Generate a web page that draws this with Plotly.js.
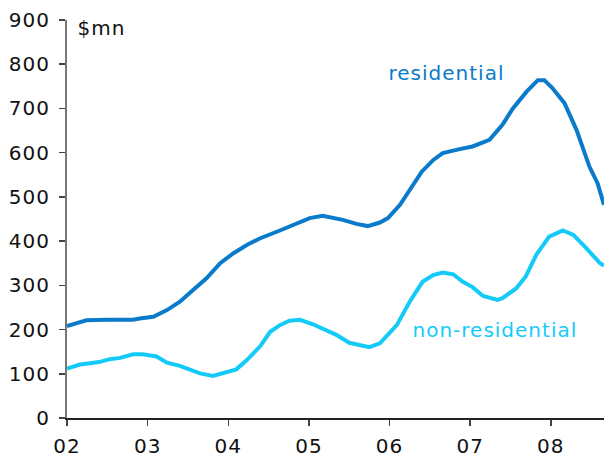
<!DOCTYPE html>
<html><head><meta charset="utf-8">
<script src="https://cdn.plot.ly/plotly-3.0.1.min.js"></script>
<style>html,body{margin:0;padding:0;background:#fff}#chart{width:604px;height:457px}
#chart svg text{letter-spacing:1px}</style>
</head><body><div id="chart"></div>
<script>
// decimal-year positions and values ($mn)
const resYears = [2002.0,2002.1,2002.24,2002.5,2002.82,2002.9,2003.07,2003.24,2003.4,2003.56,2003.73,2003.9,2004.06,2004.23,2004.39,2004.64,2004.89,2005.01,2005.17,2005.3,2005.42,2005.59,2005.73,2005.88,2005.98,2006.13,2006.25,2006.4,2006.54,2006.66,2006.87,2007.03,2007.24,2007.4,2007.53,2007.7,2007.84,2007.92,2008.02,2008.17,2008.32,2008.48,2008.58,2008.66];
const residential = [208,214,221,222,222,225,229,244,263,289,316,350,372,391,406,424,444,452,457,452,448,439,434,442,452,482,516,557,583,599,608,614,629,663,700,738,764,764,746,712,651,568,531,482];
const nonResYears = [2002.0,2002.16,2002.29,2002.41,2002.53,2002.66,2002.82,2002.94,2003.11,2003.24,2003.4,2003.52,2003.65,2003.81,2003.93,2004.1,2004.23,2004.39,2004.52,2004.64,2004.76,2004.89,2005.05,2005.26,2005.34,2005.5,2005.75,2005.88,2006.09,2006.25,2006.41,2006.54,2006.66,2006.79,2006.91,2007.03,2007.16,2007.34,2007.4,2007.57,2007.69,2007.82,2007.98,2008.15,2008.28,2008.44,2008.61,2008.66];
const nonResidential = [112,121,124,127,133,136,144,144,139,125,118,110,101,95,101,110,131,161,195,210,220,222,212,195,188,170,160,169,210,263,308,323,329,325,308,296,276,267,271,293,320,369,410,424,414,384,350,345];
const tickYears = [2002,2003,2004,2005,2006,2007,2008];
const tickLabels = ['02','03','04','05','06','07','08'];
const yTicks = [0,100,200,300,400,500,600,700,800,900];

const resColor = '#0a7bcb';
const nonColor = '#14cbf8';
const fontFam = 'DejaVu Sans, Verdana, sans-serif';

const data = [
  {x: resYears, y: residential, type: 'scatter', mode: 'lines', line: {color: resColor, width: 4}, hoverinfo: 'skip'},
  {x: nonResYears, y: nonResidential, type: 'scatter', mode: 'lines', line: {color: nonColor, width: 4}, hoverinfo: 'skip'}
];
const layout = {
  width: 604, height: 457,
  margin: {l: 67, r: 0, t: 20, b: 39},
  paper_bgcolor: '#fff', plot_bgcolor: '#fff',
  showlegend: false,
  font: {family: fontFam, size: 20, color: '#111'},
  xaxis: {
    range: [2002, 2008.66], tickvals: tickYears, ticktext: tickLabels,
    showgrid: false, zeroline: false, showline: true, linecolor: '#222', linewidth: 1.5,
    ticks: 'outside', ticklen: 6, tickcolor: '#444', tickwidth: 1.5, ticklabelstandoff: 3,
    tickfont: {family: fontFam, size: 20, color: '#111'}, fixedrange: true
  },
  yaxis: {
    range: [0, 900], tickvals: yTicks,
    showgrid: false, zeroline: false, showline: true, linecolor: '#777', linewidth: 2,
    ticks: 'outside', ticklen: 6, tickcolor: '#444', tickwidth: 1.5, ticklabelstandoff: 5,
    tickfont: {family: fontFam, size: 20, color: '#111'}, fixedrange: true
  },
  annotations: [
    {text: '$mn', xref: 'paper', yref: 'paper', x: 0.018, y: 0.98, xanchor: 'left', yanchor: 'middle', showarrow: false, font: {family: fontFam, size: 20, color: '#111'}},
    {text: 'residential', xref: 'x', yref: 'y', x: 2006.71, y: 780, xanchor: 'center', yanchor: 'middle', showarrow: false, font: {family: fontFam, size: 20, color: resColor}},
    {text: 'non-residential', xref: 'x', yref: 'y', x: 2007.31, y: 199, xanchor: 'center', yanchor: 'middle', showarrow: false, font: {family: fontFam, size: 20, color: nonColor}}
  ]
};
Plotly.newPlot('chart', data, layout, {displayModeBar: false, staticPlot: true});
</script>
</body></html>
